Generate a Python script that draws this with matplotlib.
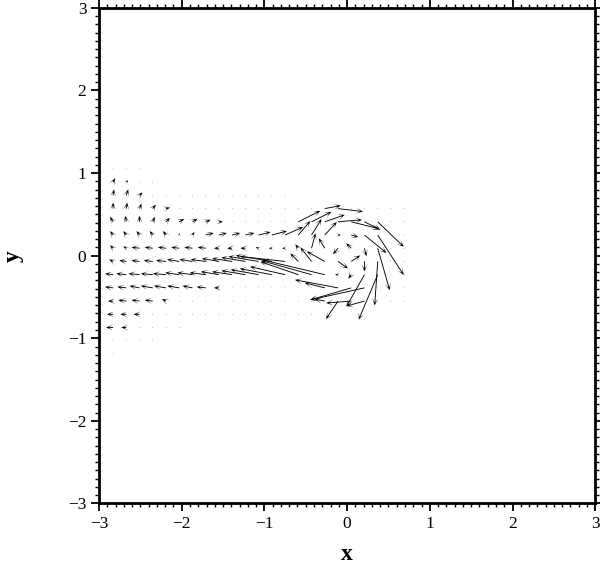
import numpy as np
import matplotlib
matplotlib.use("Agg")
import matplotlib.pyplot as plt
from matplotlib.ticker import MultipleLocator

N = np.nan

x_grid = [-2.83, -2.67, -2.51, -2.35, -2.19, -2.03, -1.87, -1.71, -1.55, -1.39, -1.23, -1.07,
          -0.91, -0.75, -0.59, -0.43, -0.27, -0.11, 0.05, 0.21, 0.37, 0.53, 0.69]
y_grid = [1.05, 0.89, 0.73, 0.57, 0.41, 0.25, 0.09, -0.07, -0.23, -0.39, -0.55, -0.71,
          -0.87, -1.03, -1.19]

# vector components (arbitrary velocity units), one list per row, NaN = no sample
u_rows = [
    [0, 0, 0] + [N] * 20,
    [2, 2, 0, 0] + [N] * 19,
    [1, 2, 3, 0, 0, 0, 0, 0, 0, 0, 0, 0, 0, 0] + [N] * 9,
    [0, 1, 2, 3, 4, 0, 0, 0, 0, 0, 0, 0, 0, 0, 0, 0, 16, 25, 0, 0, 0, 0, 0],
    [-3, -1, 0, 2, 4, 5, 5, 5, 4, 0, 0, 0, 0, 0, 22, 20, 20, 24, 28, 16, 26, 0, 0],
    [-3, -3, -3, -3, -3, 0, 2, 8, 8, 8, 9, 12, 15, 18, 12, 10, 12, 3, 7, 22, 26, 0, 0],
    [-3, -3, -8, -8, -8, -8, -8, -8, -5, -5, -5, -3, -3, -3, -3, 4, -6, -5, -5, 2, 12, 0, 0],
    [-4, -7, -8, -9, -10, -12, -13, -15, -17, -20, -24, -30, -36, -45, -8, -11, -18, 10, 9, 0, -3, 0, 0],
    [-8, -10, -11, -12, -13, -14, -15, -16, -18, -20, -24, -28, -32, -35, -38, -50, -63, -3, -3, -18, -19, 0, 0],
    [-8, -9, -10, -12, -12, -12, -10, -9, -5, 0, 0, 0, 0, 0, 0, 0, -20, -43, -41, -54, 0, 0, 0],
    [-5, -8, -8, -8, -4, 0, 0, 0, 0, 0, 0, 0, 0, 0, 0, 0, -10, -12, -25, -18, 0, 0, 0],
    [-6, -6, -6, 0, 0, 0, 0, 0, 0, 0, 0, 0, 0, 0, 0, 0, 0] + [N] * 6,
    [-7, -5, 0, 0, 0, 0] + [N] * 17,
    [0, 0, 0, 0] + [N] * 19,
    [0] + [N] * 22,
]
v_rows = [
    [0, 0, 0] + [N] * 20,
    [4, 2, 0, 0] + [N] * 19,
    [6, 6, 3, 0, 0, 0, 0, 0, 0, 0, 0, 0, 0, 0] + [N] * 9,
    [6, 6, 5, 4, 1, 0, 0, 0, 0, 0, 0, 0, 0, 0, 0, 0, 3, -3, 0, 0, 0, 0, 0],
    [5, 6, 6, 5, 4, 3, 3, 2, 0, 0, 0, 0, 0, 0, 11, 10, 7, 2, -7, -8, -25, 0, 0],
    [4, 4, 4, 4, 4, 2, 3, 2, 2, 2, 2, 3, 4, 8, 14, 16, 13, 0, -2, -18, -40, 0, 0],
    [3, 2, 1, 1, 1, 1, 1, 1, 0, 0, 0, 1, 0, 0, 4, 15, 10, -6, 5, -8, -42, 0, 0],
    [2, 1, 1, 1, 1, 2, 2, 2, 3, 3, 4, 5, 6, 5, 8, 14, 10, -7, 6, -10, -44, 0, 0],
    [1, 1, 1, 1, 1, 2, 2, 2, 3, 3, 4, 5, 6, 8, 13, 14, 15, 0, -4, -32, -45, 0, 0],
    [1, 1, 2, 2, 2, 2, 2, 1, 0, 0, 0, 0, 0, 0, 0, 0, 5, 8, -12, -12, 0, 0, 0],
    [0, 1, 1, 1, 2, 0, 0, 0, 0, 0, 0, 0, 0, 0, 0, 0, 2, -18, -2, -5, 0, 0, 0],
    [0, 0, 0, 0, 0, 0, 0, 0, 0, 0, 0, 0, 0, 0, 0, 0, 0] + [N] * 6,
    [0, 0, 0, 0, 0, 0] + [N] * 17,
    [0, 0, 0, 0] + [N] * 19,
    [0] + [N] * 22,
]

x_ticks = [-3, -2, -1, 0, 1, 2, 3]
y_ticks = [-3, -2, -1, 0, 1, 2, 3]

plt.rcParams['font.family'] = ['Liberation Serif', 'DejaVu Serif']

fig = plt.figure(figsize=(6.0, 5.65), dpi=100)
ax = fig.add_axes([0.165, 0.109, 0.827, 0.877])

X, Y = np.meshgrid(np.array(x_grid), np.array(y_grid))
U = np.array(u_rows, dtype=float)
V = np.array(v_rows, dtype=float)
mask = np.isfinite(U)

ax.quiver(X[mask], Y[mask], U[mask], V[mask], angles='xy', scale_units='xy', scale=82.6,
          pivot='tail', color='black', width=0.0018, headwidth=6.5, headlength=8,
          headaxislength=3.2, minlength=0.7, minshaft=0.6)

ax.set_xlim(-3, 3)
ax.set_ylim(-3, 3)
ax.set_xticks(x_ticks)
ax.set_yticks(y_ticks)
ax.set_xticklabels([str(t).replace('-', '\u2212') for t in x_ticks])
ax.set_yticklabels([str(t).replace('-', '\u2212') for t in y_ticks])
ax.xaxis.set_minor_locator(MultipleLocator(0.1))
ax.yaxis.set_minor_locator(MultipleLocator(0.1))
ax.tick_params(which='major', direction='out', length=6, width=1.3, labelsize=12.5,
               top=True, right=True, pad=3)
ax.tick_params(which='minor', direction='out', length=3, width=1.0, top=True, right=True)
for s in ax.spines.values():
    s.set_linewidth(2.0)

ax.set_xlabel('x', fontsize=17, fontweight='bold', labelpad=9)
ax.set_ylabel('y', fontsize=17, fontweight='bold', rotation=90, labelpad=32)

fig.savefig('out.png', dpi=100)
